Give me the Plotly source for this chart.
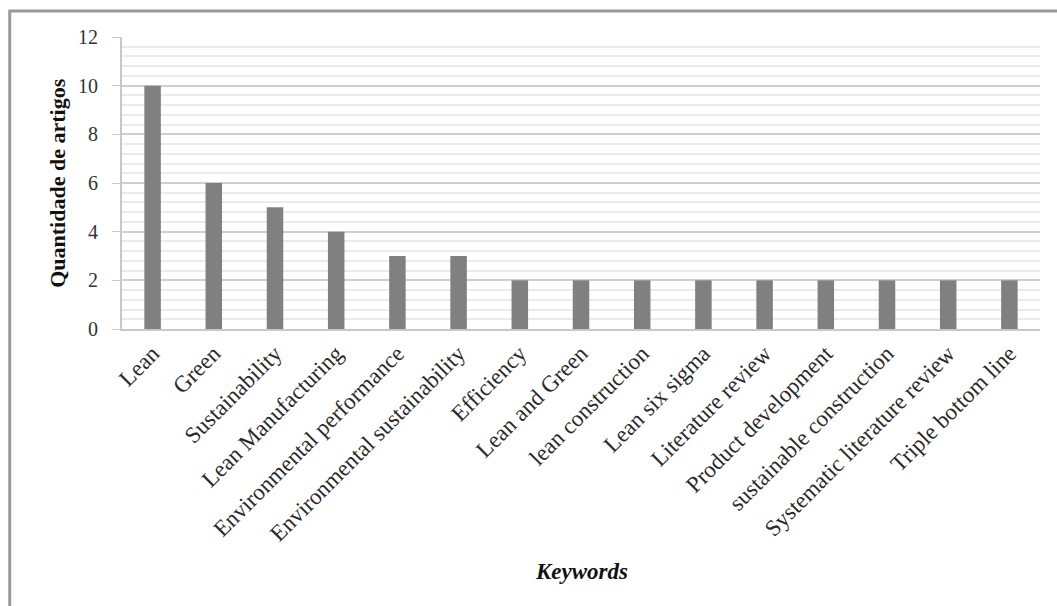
import plotly.graph_objects as go

keywords = [
    "Lean", "Green", "Sustainability", "Lean Manufacturing",
    "Environmental performance", "Environmental sustainability",
    "Efficiency", "Lean and Green", "lean construction", "Lean six sigma",
    "Literature review", "Product development", "sustainable construction",
    "Systematic literature review", "Triple bottom line",
]
artigos = [10, 6, 5, 4, 3, 3, 2, 2, 2, 2, 2, 2, 2, 2, 2]
y_ticks = [0, 2, 4, 6, 8, 10, 12]

serif = "Liberation Serif"

fig = go.Figure(
    go.Bar(
        x=keywords,
        y=artigos,
        width=0.27,
        marker=dict(color="#808080", line=dict(width=0)),
    )
)

fig.update_layout(
    width=1057,
    height=606,
    margin=dict(l=122, r=17, t=37, b=277),
    paper_bgcolor="white",
    plot_bgcolor="white",
    showlegend=False,
    font=dict(family=serif, color="#222222"),
)

fig.update_xaxes(
    tickangle=-45,
    tickfont=dict(family=serif, size=23, color="#2a2a2a"),
    showgrid=False,
    showline=True,
    linecolor="#c8c8c8",
    linewidth=2,
    ticks="",
)

fig.update_yaxes(
    range=[0, 12],
    tickvals=y_ticks,
    tickfont=dict(family=serif, size=20, color="#333333"),
    showline=True,
    linecolor="#c8c8c8",
    linewidth=2,
    ticks="outside",
    ticklen=8,
    tickcolor="#c8c8c8",
    ticklabelstandoff=10,
    showgrid=True,
    gridcolor="#cfcfcf",
    gridwidth=2,
    zeroline=False,
    minor=dict(dtick=0.4, showgrid=True, gridcolor="#ebebeb", gridwidth=2),
)

# axis titles
fig.add_annotation(
    text="<b>Quantidade de artigos</b>",
    xref="paper", yref="paper", x=-0.071, y=0.5,
    xanchor="center", yanchor="middle", textangle=-90, showarrow=False,
    font=dict(family=serif, size=22, color="#111111"),
)
fig.add_annotation(
    text="<b><i>Keywords</i></b>",
    xref="paper", yref="paper", x=0.5, y=-0.83,
    xanchor="center", yanchor="middle", showarrow=False,
    font=dict(family=serif, size=23, color="#111111"),
)

# outer frame around the whole chart
fig.add_shape(
    type="rect", xref="paper", yref="paper",
    x0=-0.1223, x1=1.05, y0=-0.97, y1=1.089,
    line=dict(color="#9a9a9a", width=3),
    fillcolor="rgba(0,0,0,0)",
    layer="below",
)

fig.write_html("out.html")
